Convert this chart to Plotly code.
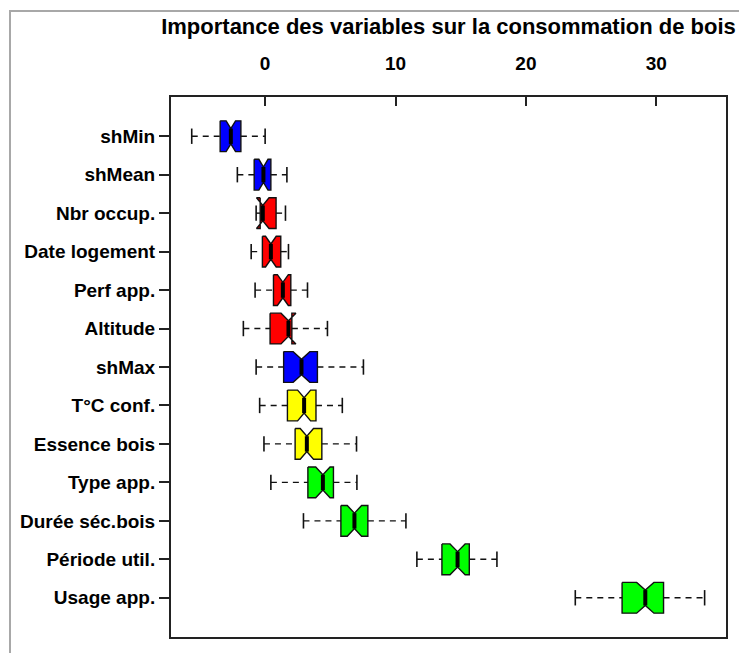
import plotly.graph_objects as go

# ---- data ----
variables = ["shMin", "shMean", "Nbr occup.", "Date logement", "Perf app.", "Altitude",
             "shMax", "T°C conf.", "Essence bois", "Type app.", "Durée séc.bois",
             "Période util.", "Usage app."]
lower_whisker = [-5.63, -2.13, -0.69, -1.07, -0.77, -1.67, -0.69, -0.42, -0.09, 0.44, 2.94, 11.64, 23.79]
q1 =            [-3.45, -0.84, -0.38, -0.21, 0.64, 0.38, 1.42, 1.71, 2.30, 3.28, 5.81, 13.56, 27.38]
median =        [-2.63, -0.13, -0.18, 0.44, 1.36, 1.79, 2.79, 2.99, 3.20, 4.43, 6.85, 14.76, 29.16]
q3 =            [-1.86, 0.44, 0.84, 1.20, 1.97, 2.05, 4.01, 3.90, 4.35, 5.24, 7.88, 15.66, 30.56]
upper_whisker = [0.00, 1.67, 1.56, 1.79, 3.25, 4.78, 7.54, 5.92, 7.01, 7.04, 10.80, 17.78, 33.71]
notch_half =    [0.36, 0.35, 0.48, 0.41, 0.42, 0.57, 0.64, 0.50, 0.51, 0.55, 0.55, 0.58, 0.66]
box_colors = ["#0000FF", "#0000FF", "#FF0000", "#FF0000", "#FF0000", "#FF0000",
              "#0000FF", "#FFFF00", "#FFFF00", "#00FF00", "#00FF00", "#00FF00", "#00FF00"]
x_ticks = [0, 10, 20, 30]
title_text = "Importance des variables sur la consommation de bois"

# ---- figure ----
W = 0.4          # half box width (boxwex 0.8)
WN = W * 0.5     # half width at the notch
WS = W * 0.5     # half staple width
positions = list(range(1, len(variables) + 1))

fig = go.Figure()
whisk_x, whisk_y, cap_x, cap_y, med_x, med_y = [], [], [], [], [], []
for i, y in enumerate(positions):
    c1 = median[i] - notch_half[i]
    c2 = median[i] + notch_half[i]
    px = [q1[i], q1[i], c1, median[i], c2, q3[i], q3[i], c2, median[i], c1, q1[i]]
    py = [y - W, y + W, y + W, y + WN, y + W, y + W, y - W, y - W, y - WN, y - W, y - W]
    fig.add_trace(go.Scatter(x=px, y=py, mode="lines", fill="toself",
                             fillcolor=box_colors[i],
                             line=dict(color="#111111", width=1.4),
                             hoverinfo="skip", showlegend=False))
    whisk_x += [lower_whisker[i], q1[i], None, q3[i], upper_whisker[i], None]
    whisk_y += [y, y, None, y, y, None]
    cap_x += [lower_whisker[i], lower_whisker[i], None, upper_whisker[i], upper_whisker[i], None]
    cap_y += [y - WS, y + WS, None, y - WS, y + WS, None]
    med_x += [median[i], median[i], None]
    med_y += [y - WN, y + WN, None]

fig.add_trace(go.Scatter(x=whisk_x, y=whisk_y, mode="lines",
                         line=dict(color="#111111", width=1.4, dash="6px,5px"),
                         hoverinfo="skip", showlegend=False))
fig.add_trace(go.Scatter(x=cap_x, y=cap_y, mode="lines",
                         line=dict(color="#111111", width=1.6),
                         hoverinfo="skip", showlegend=False))
fig.add_trace(go.Scatter(x=med_x, y=med_y, mode="lines",
                         line=dict(color="#000000", width=4),
                         hoverinfo="skip", showlegend=False))

font_family = "Liberation Sans, Arial, sans-serif"

# page body adds an 8px offset; margins compensate so the frame lands at x 171..726, y 97..637
ML, MT, PW, PH = 163, 89, 555, 540

fig.update_layout(
    width=747, height=653,
    margin=dict(l=ML, r=747 - ML - PW, t=MT, b=653 - MT - PH, pad=0, autoexpand=False),
    paper_bgcolor="white", plot_bgcolor="white",
    showlegend=False,
    title=dict(text=title_text, x=0.5, xref="paper", xanchor="center",
               y=1 - 18 / 653, yref="container", yanchor="middle",
               font=dict(family=font_family, size=22, color="black", weight="bold")),
    xaxis=dict(side="top", range=[-7.22, 35.35], tickvals=x_ticks,
               ticktext=[str(v) for v in x_ticks],
               ticks="inside", ticklen=9, tickwidth=1.5, tickcolor="#222222",
               ticklabelstandoff=17, automargin=False,
               showline=True, mirror=True, linecolor="#222222", linewidth=2,
               showgrid=False, zeroline=False,
               tickfont=dict(family=font_family, size=19, color="black", weight="bold")),
    yaxis=dict(range=[14.02, -0.02], tickvals=positions, ticktext=variables,
               ticks="outside", ticklen=10, tickwidth=1.5, tickcolor="#222222",
               automargin=False,
               showline=True, mirror=True, linecolor="#222222", linewidth=2,
               showgrid=False, zeroline=False,
               tickfont=dict(family=font_family, size=19, color="black", weight="bold")),
    shapes=[dict(type="rect", xref="paper", yref="paper",
                 x0=(10 - 171) / PW, x1=(790 - 171) / PW,
                 y0=(637 - 720) / PH, y1=(637 - 11) / PH,
                 line=dict(color="#a8a8a8", width=2), fillcolor="rgba(0,0,0,0)",
                 layer="above")],
)

fig.write_html("out.html")
